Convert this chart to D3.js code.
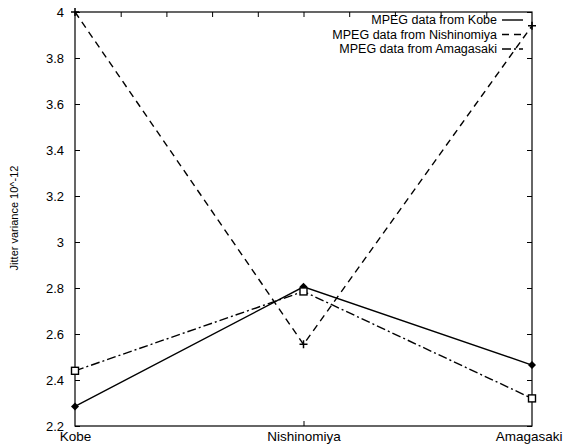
<!DOCTYPE html>
<html>
<head>
<meta charset="utf-8">
<script src="https://cdn.jsdelivr.net/npm/d3@7"></script>
<style>
    body { margin: 0; background: #fff; }
    text { font-family: "Liberation Sans", Arial, sans-serif; fill: #000; }
</style>
</head>
<body>
<div id="chart"></div>
<script>
// data
const cities = ["Kobe", "Nishinomiya", "Amagasaki"];
const seriesNames = ["MPEG data from Kobe", "MPEG data from Nishinomiya", "MPEG data from Amagasaki"];
const kobeValues = [2.285, 2.805, 2.465];
const nishinomiyaValues = [4.0, 2.555, 3.94];
const amagasakiValues = [2.44, 2.785, 2.32];
const yTicks = [2.2, 2.4, 2.6, 2.8, 3, 3.2, 3.4, 3.6, 3.8, 4];
const yTitle = "Jitter variance 10^-12";

const margin = { top: 12, right: 32, bottom: 21, left: 75 };
const W = 564, H = 447;
const width = W - margin.left - margin.right;
const height = H - margin.top - margin.bottom;

const svg = d3.select("#chart")
    .append("svg")
    .attr("width", W)
    .attr("height", H);

const g = svg.append("g")
    .attr("transform", `translate(${margin.left}, ${margin.top})`);

// scales
const x = d3.scalePoint().domain(cities).range([0, width]).padding(0);
const y = d3.scaleLinear().domain([2.2, 4]).range([height, 0]);
const xTop = d3.scaleLinear().domain([0, 10]).range([0, width]);

// frame
g.append("rect")
    .attr("width", width).attr("height", height)
    .attr("fill", "none").attr("stroke", "#000").attr("stroke-width", 1.2);

// left axis, ticks inward
const yAxis = g.append("g")
    .call(d3.axisLeft(y).tickValues(yTicks).tickSize(-5).tickPadding(11)
        .tickFormat(d => d3.format("~g")(d)));
yAxis.select("path.domain").remove();
yAxis.selectAll("text").attr("font-size", 13);

// right mirrored ticks
const yRight = g.append("g")
    .attr("transform", `translate(${width}, 0)`)
    .call(d3.axisRight(y).tickValues(yTicks).tickSize(-5).tickFormat(""));
yRight.select("path.domain").remove();

// top ticks
const xTopAxis = g.append("g")
    .call(d3.axisTop(xTop).tickValues(d3.range(1, 10)).tickSize(-5).tickFormat(""));
xTopAxis.select("path.domain").remove();

// bottom axis
const xAxis = g.append("g")
    .attr("transform", `translate(0, ${height})`)
    .call(d3.axisBottom(x).tickSize(0).tickPadding(5));
xAxis.select("path.domain").remove();
xAxis.selectAll("text").attr("font-size", 13.5);
xAxis.selectAll(".tick text")
    .filter(d => d === "Amagasaki")
    .attr("text-anchor", "end")
    .attr("x", W - margin.left - width - 2);
xAxis.selectAll(".tick")
    .filter(d => d === "Nishinomiya")
    .append("line").attr("y1", 0).attr("y2", -5).attr("stroke", "#000");

// y title
svg.append("text")
    .attr("transform", `translate(18, 218) rotate(-90)`)
    .attr("text-anchor", "middle")
    .attr("font-size", 11)
    .text(yTitle);

// series
const series = [
    { name: seriesNames[0], values: kobeValues, dash: null, marker: "diamond" },
    { name: seriesNames[1], values: nishinomiyaValues, dash: "7,5", marker: "plus" },
    { name: seriesNames[2], values: amagasakiValues, dash: "9,3,2,3", marker: "square" }
];

const line = d3.line()
    .x((d, i) => x(cities[i]))
    .y(d => y(d));

series.forEach(s => {
    g.append("path")
        .datum(s.values)
        .attr("d", line)
        .attr("fill", "none")
        .attr("stroke", "#000")
        .attr("stroke-width", 1.4)
        .attr("stroke-dasharray", s.dash);

    const pts = g.selectAll(null)
        .data(s.values)
        .enter()
        .append("g")
        .attr("transform", (d, i) => `translate(${x(cities[i])}, ${y(d)})`);

    if (s.marker === "diamond") {
        pts.append("path").attr("d", "M0,-4L4,0L0,4L-4,0Z").attr("fill", "#000");
    } else if (s.marker === "plus") {
        pts.append("path").attr("d", "M-4,0H4M0,-4V4")
            .attr("stroke", "#000").attr("stroke-width", 1.5);
    } else {
        pts.append("rect").attr("x", -3.5).attr("y", -3.5).attr("width", 7).attr("height", 7)
            .attr("fill", "#fff").attr("stroke", "#000").attr("stroke-width", 1.4);
    }
});

// legend
const legend = g.append("g")
    .attr("transform", `translate(${width - 30}, 0)`);

series.forEach((s, i) => {
    const row = legend.append("g")
        .attr("transform", `translate(0, ${8 + i * 14.5})`);
    row.append("text")
        .attr("x", -5)
        .attr("dy", "0.35em")
        .attr("text-anchor", "end")
        .attr("font-size", 12.5)
        .text(s.name);
    row.append("line")
        .attr("x1", 0).attr("x2", 21)
        .attr("stroke", "#000").attr("stroke-width", 1.4)
        .attr("stroke-dasharray", s.dash);
});
</script>
</body>
</html>
